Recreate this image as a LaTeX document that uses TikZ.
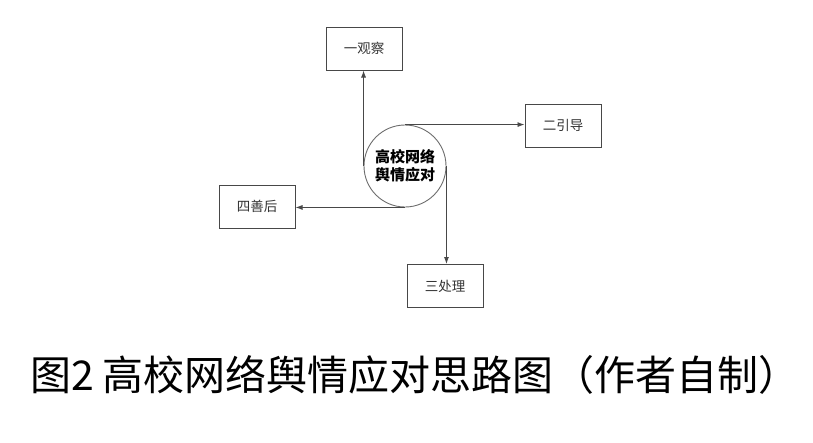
\documentclass[tikz,border=0pt]{standalone}
\usepackage{fontspec}
\usepackage{xcolor}
\usetikzlibrary{arrows.meta}
\setmainfont{Noto Sans CJK SC}
\definecolor{linegray}{HTML}{484848}
\definecolor{textgray}{HTML}{333333}

\begin{document}
\begin{tikzpicture}[x=1pt,y=-1pt,>={Latex[length=7pt,width=5pt]},
	box/.style={draw=linegray,line width=1pt,minimum width=76pt,minimum height=43pt,inner sep=0pt,text=textgray,font=\fontsize{13.5}{16}\selectfont},
	hub/.style={circle,draw=linegray!80,line width=0.9pt,minimum size=82pt,inner sep=0pt,align=center,font=\bfseries\fontsize{15}{18.5}\selectfont},
	link/.style={->,linegray,line width=0.9pt}]
	\useasboundingbox (0,0) rectangle (813,442);
		% (fig 2)
	\node[hub] (hub) at (405,166) {高校网络\\舆情应对};

	\node[box] (watch) at (364,48.5) {一观察};
	\node[box] (guide) at (563,125.5) {二引导};
	\node[box] (handle) at (445,286) {三处理};
	\node[box] (after) at (257,206.5) {四善后};

	\draw[link] (hub.west) -- (hub.west |- watch.south);
	\draw[link] (hub.north) -- (hub.north -| guide.west);
	\draw[link] (hub.east) -- (hub.east |- handle.north);
	\draw[link] (hub.south) -- (hub.south -| after.east);

	\node[font=\fontsize{41}{48}\selectfont] (caption) at (415,375) {图2 高校网络舆情应对思路图（作者自制）};
	
\end{tikzpicture}
\end{document}
